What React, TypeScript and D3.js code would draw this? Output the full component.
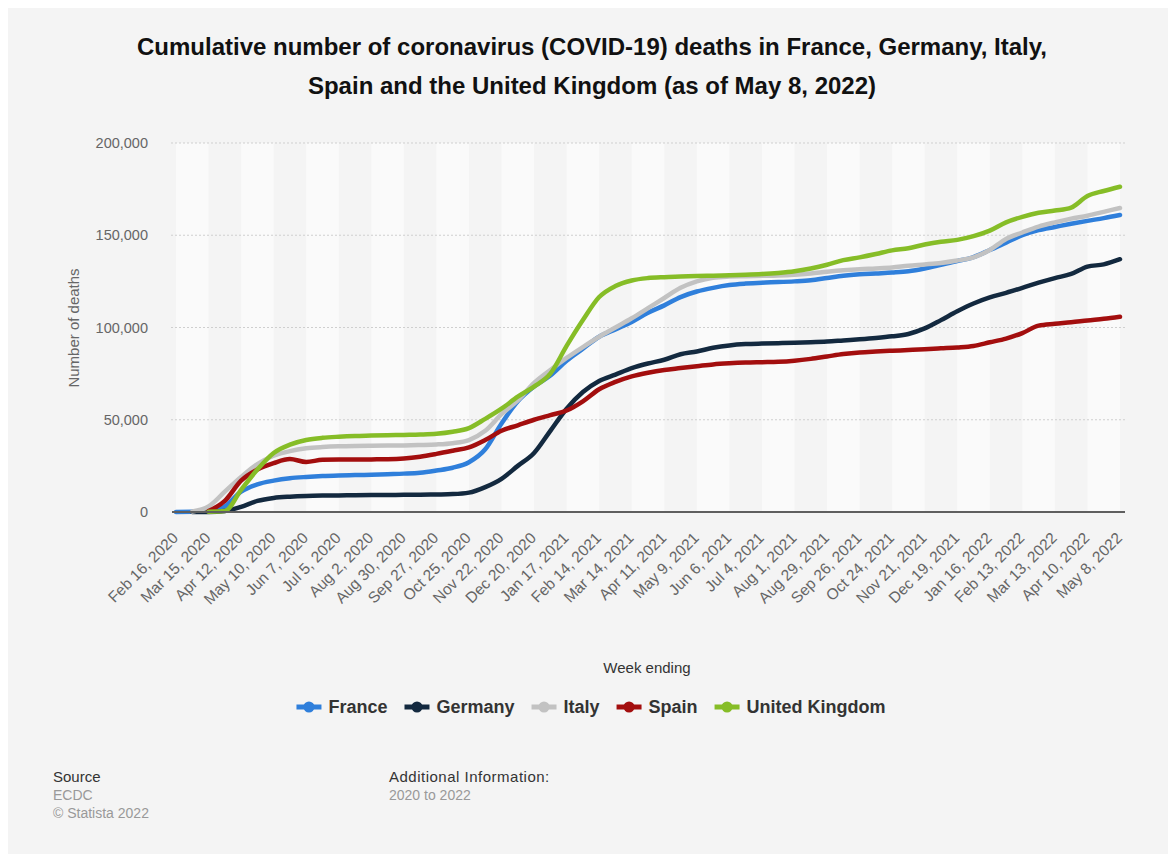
import React from "react";
import * as d3 from "d3";

const dates = [
  "2020-02-16","2020-03-01","2020-03-15","2020-03-29","2020-04-12","2020-04-26","2020-05-10","2020-05-24","2020-06-07","2020-06-21",
  "2020-07-05","2020-07-19","2020-08-02","2020-08-16","2020-08-30","2020-09-13","2020-09-27","2020-10-11","2020-10-25","2020-11-08",
  "2020-11-22","2020-12-06","2020-12-20","2021-01-03","2021-01-17","2021-01-31","2021-02-14","2021-02-28","2021-03-14","2021-03-28",
  "2021-04-11","2021-04-25","2021-05-09","2021-05-23","2021-06-06","2021-06-20","2021-07-04","2021-07-18","2021-08-01","2021-08-15",
  "2021-08-29","2021-09-12","2021-09-26","2021-10-10","2021-10-24","2021-11-07","2021-11-21","2021-12-05","2021-12-19","2022-01-02",
  "2022-01-16","2022-01-30","2022-02-13","2022-02-27","2022-03-13","2022-03-27","2022-04-10","2022-04-24","2022-05-08",
];

const france = [
  0, 100, 100, 3000, 11000, 15000, 17000, 18300, 19000, 19500,
  19800, 20000, 20200, 20500, 20800, 21300, 22500, 24000, 27000, 34000,
  48000, 60000, 68000, 74000, 82000, 88500, 95000, 99000, 103000, 108000,
  112000, 116500, 119500, 121500, 123000, 123800, 124300, 124600, 125000, 125600,
  126800, 128000, 128800, 129300, 129800, 130500, 132000, 134000, 136000, 138200,
  142000, 146000, 150000, 152800, 154500, 156200, 157800, 159300, 161000,
];
const germany = [
  null, 0, 0, 500, 2800, 6000, 7600, 8300, 8700, 8900,
  9000, 9100, 9200, 9250, 9300, 9350, 9500, 9700, 10500, 13500,
  18000, 25000, 32000, 44000, 56000, 65000, 71000, 74500, 78000, 80500,
  82500, 85500, 87000, 89000, 90300, 91000, 91300, 91500, 91700, 92000,
  92400, 93000, 93600, 94300, 95200, 96500, 99500, 104000, 108800, 113000,
  116300, 118800, 121500, 124300, 126800, 129000, 133000, 134200, 137000,
];
const italy = [
  null, 300, 3000, 11000, 19000, 26000, 30500, 33000, 34500, 35200,
  35600, 35800, 35900, 36000, 36100, 36300, 36600, 37300, 39000, 44000,
  53000, 60500, 70000, 77000, 83500, 89400, 95000, 100000, 105000, 110500,
  116000, 121500, 125000, 127000, 127600, 127800, 128000, 128200, 128600, 129300,
  130200, 131000, 131600, 132000, 132500, 133500, 134200, 135000, 136300, 138000,
  142000, 148000, 151500, 154700, 157000, 159000, 160600, 162700, 164800,
];
const spain = [
  null, null, 500, 6000, 17000, 23000, 26500, 28700, 27100, 28300,
  28400, 28400, 28500, 28600, 29000, 30000, 31500, 33200, 35000, 39000,
  44000, 47000, 50000, 52500, 55000, 60000, 66500, 70500, 73500, 75500,
  77000, 78000, 79000, 80000, 80600, 81000, 81200, 81400, 82000, 83000,
  84300, 85600, 86500, 87000, 87400, 87800, 88200, 88700, 89200, 90000,
  92000, 94000, 97000, 101000, 102000, 102800, 103800, 104700, 105800,
];
const unitedKingdom = [
  null, null, 100, 500, 12000, 23000, 32000, 36500, 39000, 40200,
  40800, 41200, 41400, 41600, 41800, 42000, 42400, 43500, 45500, 50500,
  56000, 62500, 68000, 75000, 90000, 104000, 116500, 122500, 125500, 126800,
  127300, 127600, 127900, 128100, 128300, 128600, 129000, 129600, 130500, 132000,
  134000, 136500, 138000, 139800, 141800, 143000, 145000, 146500, 147500, 149500,
  152500, 157000, 160000, 162200, 163400, 165000, 171300, 174000, 176300,
];

const seriesNames = ["France", "Germany", "Italy", "Spain", "United Kingdom"];
const seriesValues = [france, germany, italy, spain, unitedKingdom];
const seriesColors = ["#2f7fdb", "#13293f", "#c2c2c2", "#a30e0e", "#86bd27"];

const tickLabels = [
  "Feb 16, 2020","Mar 15, 2020","Apr 12, 2020","May 10, 2020","Jun 7, 2020","Jul 5, 2020","Aug 2, 2020","Aug 30, 2020",
  "Sep 27, 2020","Oct 25, 2020","Nov 22, 2020","Dec 20, 2020","Jan 17, 2021","Feb 14, 2021","Mar 14, 2021","Apr 11, 2021",
  "May 9, 2021","Jun 6, 2021","Jul 4, 2021","Aug 1, 2021","Aug 29, 2021","Sep 26, 2021","Oct 24, 2021","Nov 21, 2021",
  "Dec 19, 2021","Jan 16, 2022","Feb 13, 2022","Mar 13, 2022","Apr 10, 2022","May 8, 2022",
];
const yTicks = [0, 50000, 100000, 150000, 200000];

const FONT = "'Liberation Sans', Arial, Helvetica, sans-serif";

function measure(text: string, font: string): number {
  const c = document.createElement("canvas");
  const ctx = c.getContext("2d");
  if (!ctx) return text.length * 9;
  ctx.font = font;
  return ctx.measureText(text).width;
}

export default function App() {
  const W = 1176, H = 862;
  const parseISO = d3.utcParse("%Y-%m-%d");
  const parseLabel = d3.utcParse("%b %d, %Y");
  const dateObjs = dates.map((d) => parseISO(d) as Date);
  const tickDates = tickLabels.map((t) => parseLabel(t) as Date);

  const x = d3.scaleUtc().domain([dateObjs[0], dateObjs[dateObjs.length - 1]]).range([176, 1120]);
  const y = d3.scaleLinear().domain([0, 200000]).range([512, 143]);
  const fmt = d3.format(",");

  const line = d3
    .line<[Date, number | null]>()
    .defined((d) => d[1] != null)
    .x((d) => x(d[0]))
    .y((d) => y(d[1] as number))
    .curve(d3.curveMonotoneX);

  // legend layout
  const legendFont = `bold 18px ${FONT}`;
  const markerW = 25, markerGap = 7, itemGap = 17;
  const widths = seriesNames.map((n) => measure(n, legendFont));
  const total = widths.reduce((a, w) => a + markerW + markerGap + w, 0) + itemGap * (seriesNames.length - 1);
  let lx = 591 - total / 2;
  const legendItems = seriesNames.map((n, i) => {
    const item = { name: n, color: seriesColors[i], x: lx };
    lx += markerW + markerGap + widths[i] + itemGap;
    return item;
  });

  return (
    <div>
      <style>{`body{margin:0;}`}</style>
      <svg width={W} height={H} style={{ display: "block", fontFamily: FONT }}>
        <rect x={0} y={0} width={W} height={H} fill="#ffffff" />
        <rect x={8} y={8} width={1160} height={846} fill="#f4f4f4" />

        {/* title */}
        <text x={592} y={55} textAnchor="middle" fontSize={24} fontWeight="bold" fill="#111">
          Cumulative number of coronavirus (COVID-19) deaths in France, Germany, Italy,
        </text>
        <text x={592} y={94} textAnchor="middle" fontSize={24} fontWeight="bold" fill="#111">
          Spain and the United Kingdom (as of May 8, 2022)
        </text>

        {/* stripes */}
        {tickDates.slice(0, -1).map((d, i) =>
          i % 2 === 0 ? (
            <rect key={"b" + i} x={x(d)} y={143} width={x(tickDates[i + 1]) - x(d)} height={512 - 143} fill="#fafafa" />
          ) : null
        )}

        {/* gridlines */}
        {yTicks.filter((t) => t > 0).map((t) => (
          <line key={"g" + t} x1={171} x2={1126} y1={y(t)} y2={y(t)} stroke="#cfcfcf" strokeWidth={1} strokeDasharray="2 2" />
        ))}

        {/* y labels */}
        {yTicks.map((t) => (
          <text key={"yl" + t} x={148} y={y(t)} dy="0.35em" textAnchor="end" fontSize={14.5} fill="#666">
            {fmt(t)}
          </text>
        ))}
        <text transform={`translate(79,328) rotate(-90)`} textAnchor="middle" fontSize={15} fill="#666">
          Number of deaths
        </text>

        {/* lines */}
        {seriesValues.map((vals, i) => (
          <path
            key={"s" + i}
            d={line(dateObjs.map((d, j) => [d, vals[j]] as [Date, number | null])) || ""}
            fill="none"
            stroke={seriesColors[i]}
            strokeWidth={4.5}
            strokeLinecap="round"
            strokeLinejoin="round"
          />
        ))}

        {/* axis baseline */}
        <line x1={172} x2={1125} y1={512} y2={512} stroke="#5f5f5f" strokeWidth={2} />

        {/* x labels */}
        {tickDates.map((d, i) => (
          <text key={"xl" + i} transform={`translate(${x(d) + 3},539) rotate(-45)`} textAnchor="end" fontSize={15.5} fill="#666">
            {tickLabels[i]}
          </text>
        ))}
        <text x={647} y={673} textAnchor="middle" fontSize={15} fill="#333">
          Week ending
        </text>

        {/* legend */}
        {legendItems.map((it) => (
          <g key={"lg" + it.name}>
            <line x1={it.x} x2={it.x + markerW} y1={707} y2={707} stroke={it.color} strokeWidth={5} />
            <circle cx={it.x + markerW / 2} cy={707} r={5.5} fill={it.color} />
            <text x={it.x + markerW + markerGap} y={707} dy="0.35em" fontSize={18} fontWeight="bold" fill="#333">
              {it.name}
            </text>
          </g>
        ))}

        {/* footer */}
        <text x={53} y={782} fontSize={15} fill="#333">Source</text>
        <text x={53} y={800} fontSize={14} fill="#999">ECDC</text>
        <text x={53} y={818} fontSize={14} fill="#999">© Statista 2022</text>
        <text x={389} y={782} fontSize={15} letterSpacing={0.5} fill="#333">Additional Information:</text>
        <text x={389} y={800} fontSize={14} fill="#999">2020 to 2022</text>
      </svg>
    </div>
  );
}
